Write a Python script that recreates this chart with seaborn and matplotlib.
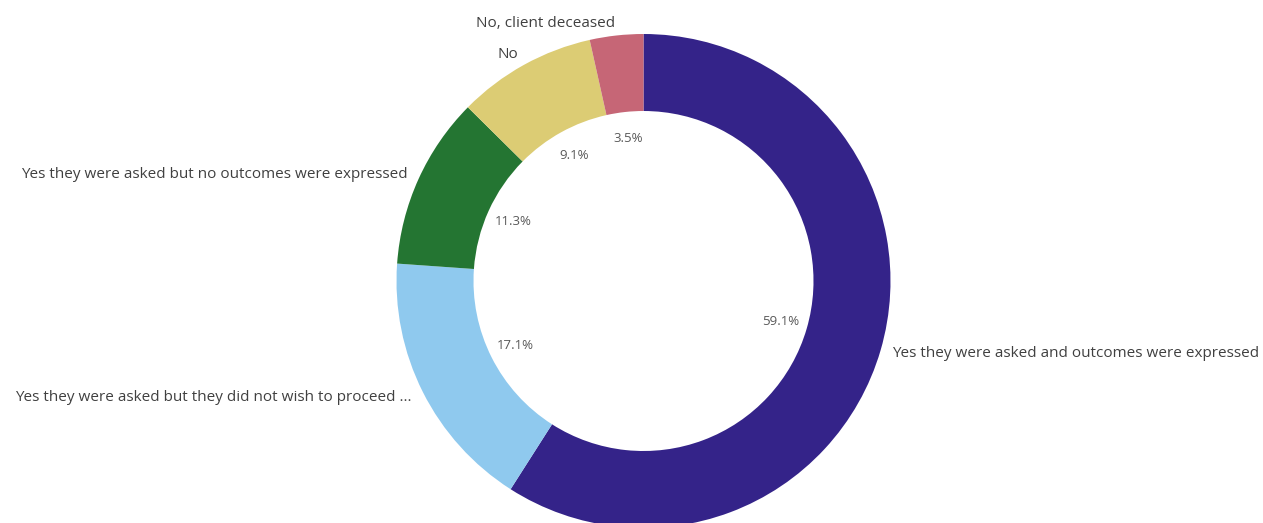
import matplotlib
matplotlib.use("Agg")
import matplotlib.pyplot as plt
import seaborn as sns

# data (clockwise from 12 o'clock)
categories = ["Yes they were asked and outcomes were expressed",
              "Yes they were asked but they did not wish to proceed ...",
              "Yes they were asked but no outcomes were expressed",
              "No",
              "No, client deceased"]
shares = [59.1, 17.1, 11.3, 9.1, 3.5]
pct_labels = ["59.1%", "17.1%", "11.3%", "9.1%", "3.5%"]
colours = ["#342389", "#8fc9ee", "#247532", "#dccc74", "#c66676"]

sns.set_theme(style="white")
plt.rcParams['font.family'] = ['Open Sans', 'DejaVu Sans']

cx, cy = 643.5, 242

fig = plt.figure(figsize=(12.63, 5.23), dpi=100)
ax = fig.add_axes([0, 0, 1, 1])

pct_iter = iter(pct_labels)
wedges, texts, autotexts = ax.pie(
    shares, labels=categories, colors=sns.color_palette(colours),
    startangle=90, counterclock=False,
    center=(cx, cy), radius=247, frame=True,
    labeldistance=1.05, pctdistance=0.58,
    autopct=lambda p: next(pct_iter),
    wedgeprops=dict(width=77, linewidth=0),
    textprops=dict(fontsize=11, color="#404040"))
ax.set_xlim(0, 1263)
ax.set_ylim(0, 523)
ax.set_aspect('equal')
ax.axis('off')

# pie aligns by sign of x about 0, fix for offset centre
for t in texts:
    x, y = t.get_position()
    t.set_ha('left' if x > cx else 'right')

for t in autotexts:
    t.set_fontsize(9.5)
    t.set_color("#595959")

fig.savefig("out.png", dpi=100)
